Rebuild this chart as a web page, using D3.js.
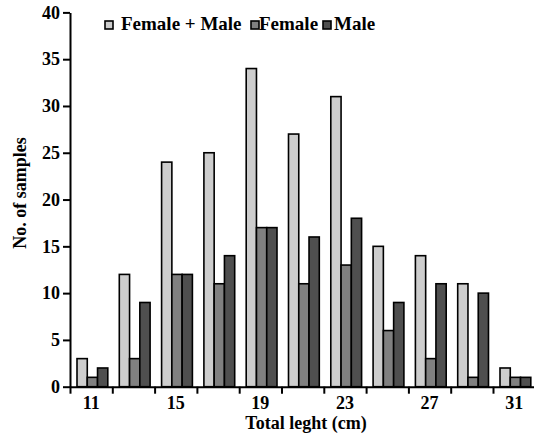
<!DOCTYPE html>
<html>
<head>
<meta charset="utf-8">
<script src="https://cdn.jsdelivr.net/npm/d3@7"></script>
<style>
  body { margin: 0; background: #fff; }
</style>
</head>
<body>
<svg id="chart"></svg>
<script>
const lengths = [11, 13, 15, 17, 19, 21, 23, 25, 27, 29, 31];
const femaleMale = [3, 12, 24, 25, 34, 27, 31, 15, 14, 11, 2];
const female = [1, 3, 12, 11, 17, 11, 13, 6, 3, 1, 1];
const male = [2, 9, 12, 14, 17, 16, 18, 9, 11, 10, 1];
const seriesNames = ["Female + Male", "Female", "Male"];
const xTickLabels = [11, 15, 19, 23, 27, 31];
const yTicks = [0, 5, 10, 15, 20, 25, 30, 35, 40];

const w = 534;
const h = 446;
const left = 70;
const step = 42.3;
const colors = ["#cdcdcd", "#808080", "#4f4f4f"];

const svg = d3.select("#chart").attr("width", w).attr("height", h);

// all labels share the same serif bold look
const serifText = (sel, size = 18) => sel
  .style("font-family", "Liberation Serif")
  .style("font-size", size + "px")
  .style("font-weight", "bold")
  .style("fill", "#000");

const x = d3.scaleBand()
  .domain(lengths)
  .range([left, left + step * lengths.length])
  .padding(0);

const inner = d3.scaleBand()
  .domain(seriesNames)
  .range([7, 37.8]);

const xEdge = d3.scaleLinear()
  .domain([0, lengths.length])
  .range([left, left + step * lengths.length]);

const y = d3.scaleLinear().domain([0, 40]).range([386.7, 12.4]);

const rows = lengths.map((len, i) => ({
  len,
  values: [femaleMale[i], female[i], male[i]]
}));

// bars
const groups = svg.selectAll("g.group")
  .data(rows)
  .enter()
  .append("g")
  .attr("class", "group")
  .attr("transform", (d) => "translate(" + x(d.len) + ",0)");

groups.selectAll("rect")
  .data((d) => d.values.map((v, j) => ({ name: seriesNames[j], v, j })))
  .enter()
  .append("rect")
  .attr("x", (d) => inner(d.name))
  .attr("width", inner.bandwidth())
  .attr("y", (d) => y(d.v))
  .attr("height", (d) => y(0) - y(d.v))
  .attr("fill", (d) => colors[d.j])
  .attr("stroke", "#000")
  .attr("stroke-width", 1.6);

// x axis
const xAxisG = svg.append("g")
  .attr("transform", "translate(0," + y(0) + ")")
  .call(d3.axisBottom(xEdge)
    .tickValues(d3.range(0, lengths.length))
    .tickFormat("")
    .tickSize(7)
    .tickSizeOuter(0));

svg.append("g")
  .selectAll("text")
  .data(xTickLabels)
  .enter()
  .append("text")
  .attr("x", (d) => x(d) + x.bandwidth() / 2)
  .attr("y", 409)
  .attr("text-anchor", "middle")
  .call(serifText)
  .text((d) => d);

// y axis
const yAxisG = svg.append("g")
  .attr("transform", "translate(" + left + ",0)")
  .call(d3.axisLeft(y)
    .tickValues(yTicks)
    .tickSize(7)
    .tickPadding(3)
    .tickSizeOuter(0));

yAxisG.selectAll(".tick text").call(serifText);

[xAxisG, yAxisG].forEach((g) => {
  g.selectAll(".domain, .tick line")
    .style("stroke", "#000")
    .style("stroke-width", "2px");
});

// axis titles
svg.append("text")
  .attr("x", 306)
  .attr("y", 429)
  .attr("text-anchor", "middle")
  .call(serifText)
  .text("Total leght (cm)");

svg.append("text")
  .attr("transform", "rotate(-90)")
  .attr("x", -193)
  .attr("y", 26)
  .attr("text-anchor", "middle")
  .call(serifText)
  .text("No. of samples");

// legend
const legendX = [105, 251, 323];
const legendTextX = [121, 259, 334];
const legend = svg.append("g");
seriesNames.forEach((name, i) => {
  legend.append("rect")
    .attr("x", legendX[i])
    .attr("y", 21)
    .attr("width", 8)
    .attr("height", 8)
    .attr("fill", colors[i])
    .attr("stroke", "#000")
    .attr("stroke-width", 1.6);
  legend.append("text")
    .attr("x", legendTextX[i])
    .attr("y", 30)
    .call(serifText, 19)
    .text(name);
});
</script>
</body>
</html>
